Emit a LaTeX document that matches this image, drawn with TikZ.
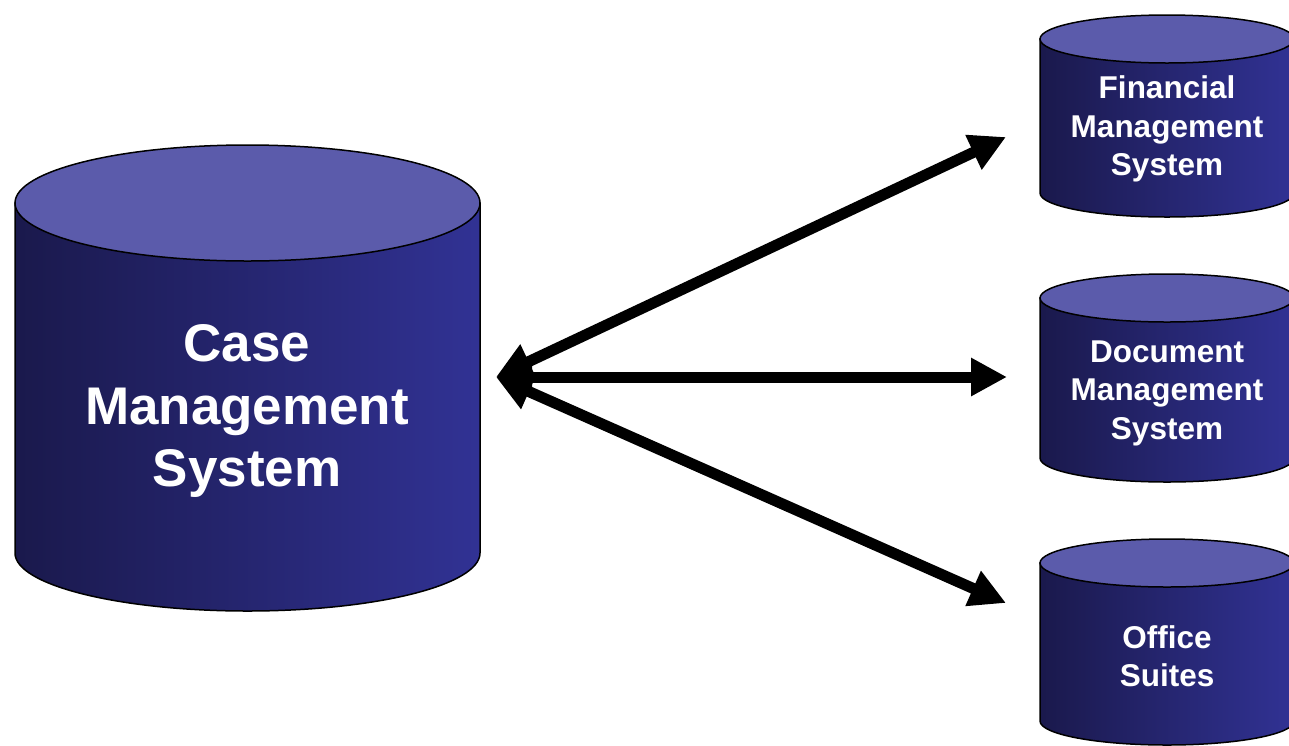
\documentclass[tikz,border=0pt]{standalone}
\usepackage{fontspec}
\setmainfont{Liberation Sans}
\usetikzlibrary{arrows.meta}
\definecolor{cyltop}{HTML}{5B5BAB}
\definecolor{cylleft}{HTML}{1A194C}
\definecolor{cylright}{HTML}{313294}
\tikzset{
  bodyfill/.style={left color=cylleft, right color=cylright, draw=black, line width=1.5pt},
  topfill/.style={fill=cyltop, draw=black, line width=1.5pt},
  bigtext/.style={text=white, align=center, font=\fontsize{53}{62.5}\selectfont\bfseries},
  smalltext/.style={text=white, align=center, font=\fontsize{31.5}{38.5}\selectfont\bfseries},
  bigarrow/.style={line width=11pt, {Triangle[length=36pt,width=36pt]}-{Triangle[length=36pt,width=36pt]}},
}
% name-free cylinder drawing: cx, topy, boty, rx, ry
\newcommand\dbcylinder[5]{%
  \path[bodyfill] ({#1-#4},#2) -- ({#1-#4},#3) arc[start angle=180,end angle=0,x radius=#4,y radius=#5] -- ({#1+#4},#2) -- cycle;
  \path[topfill] (#1,#2) ellipse[x radius=#4,y radius=#5];
}
\begin{document}
\begin{tikzpicture}[x=1pt,y=-1pt]
\useasboundingbox (0,0) rectangle (1289,745);
\clip (0,0) rectangle (1289,745);
% cylinders
\dbcylinder{247.5}{203}{553}{232.5}{58}
\dbcylinder{1167}{39}{193}{127}{24}
\dbcylinder{1167}{298}{458}{127}{24}
\dbcylinder{1167}{563}{721}{127}{24}
% labels
\node[bigtext] (cms) at (247,411) {Case\\Management\\System};
\node[smalltext] (fms) at (1167,129) {Financial\\Management\\System};
\node[smalltext] (dms) at (1167,393) {Document\\Management\\System};
\node[smalltext] (off) at (1167,656) {Office\\Suites};
% connectors
\coordinate (hub) at (496,377);
\coordinate (finend) at (1006,137);
\coordinate (docend) at (1007,377);
\coordinate (offend) at (1006,603);
\draw[bigarrow] (hub) -- (finend);
\draw[bigarrow] (hub) -- (docend);
\draw[bigarrow] (hub) -- (offend);
\end{tikzpicture}
\end{document}
